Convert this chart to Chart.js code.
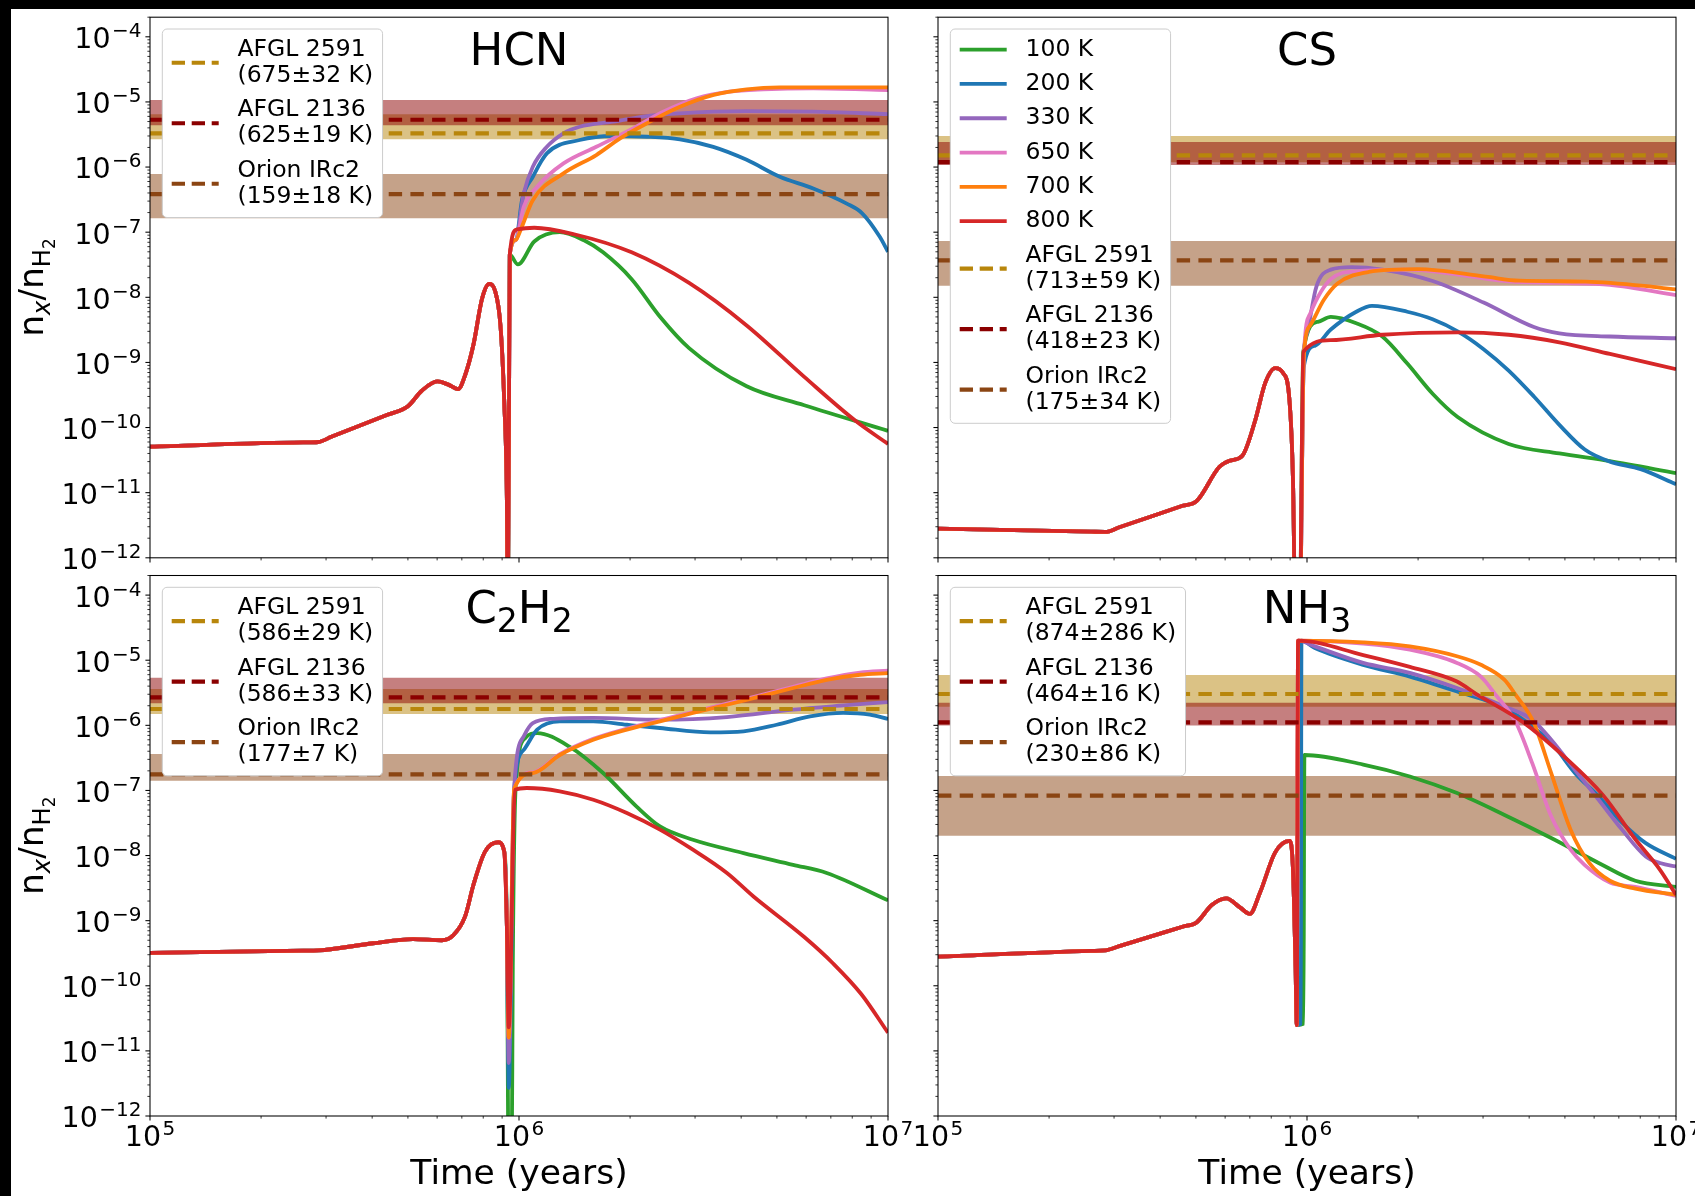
<!DOCTYPE html>
<html>
<head>
<meta charset="utf-8">
<title>Model abundances vs observations</title>
<script src="https://cdn.jsdelivr.net/npm/chart.js@4.4.1/dist/chart.umd.min.js"></script>
<style>
  html, body { margin: 0; padding: 0; background: #fff; }
  #page { position: relative; width: 1695px; height: 1196px; overflow: hidden; background: #fff; }
  #page canvas { position: absolute; left: 0; top: 0; }
  .bar { position: absolute; background: #000; }
</style>
</head>
<body>
<div id="page">
  <div class="bar" style="left:0;top:0;width:1695px;height:9px"></div>
  <div class="bar" style="left:0;top:0;width:11px;height:1196px"></div>
  <canvas id="hcnChart" width="1695" height="1196"></canvas>
  <canvas id="csChart" width="1695" height="1196"></canvas>
  <canvas id="c2h2Chart" width="1695" height="1196"></canvas>
  <canvas id="nh3Chart" width="1695" height="1196"></canvas>
</div>
<script>
window.onload = init;

var FONT = "'DejaVu Sans', sans-serif";

/* axes: tick values and their labels as [mantissa, exponent] */
var xTicks = [1e5, 1e6, 1e7];
var xTickLabels = [['10', '5'], ['10', '6'], ['10', '7']];
var yTicks = [1e-12, 1e-11, 1e-10, 1e-9, 1e-8, 1e-7, 1e-6, 1e-5, 1e-4];
var yTickLabels = [['10', '\u221212'], ['10', '\u221211'], ['10', '\u221210'], ['10', '\u22129'], ['10', '\u22128'],
  ['10', '\u22127'], ['10', '\u22126'], ['10', '\u22125'], ['10', '\u22124']];

/* model temperatures and observed sources */
var temps = ['100 K', '200 K', '330 K', '650 K', '700 K', '800 K'];
var sources = ['AFGL 2591', 'AFGL 2136', 'Orion IRc2'];

/* ---------- HCN : [time (yr), n_x/n_H2] ---------- */
var hcnEarly = [[1e5,5.1e-11],[2.6e5,5.9e-11],[2.86e5,6.0e-11],[3.1e5,7.2e-11],[4.4e5,1.57e-10],[4.99e5,2.1e-10],
  [5.46e5,3.7e-10],[6.01e5,5.1e-10],[6.41e5,4.6e-10],[6.84e5,3.9e-10],[7.14e5,6.3e-10],[7.53e5,1.9e-9],
  [7.94e5,9.5e-9],[8.30e5,1.6e-8],[8.61e5,1.26e-8],[8.91e5,3.6e-9],[9.12e5,2.5e-10],[9.27e5,8.3e-12],[9.33e5,1e-13]];
var hcn100 = [[9.44e5,4.5e-8],[9.93e5,3.2e-8],[1.1e6,7.2e-8],[1.29e6,1.0e-7],[1.5e6,7.5e-8],[1.69e6,4.9e-8],
  [2.02e6,1.9e-8],[2.42e6,4.9e-9],[2.89e6,1.66e-9],[4.14e6,4.3e-10],[5.93e6,2.2e-10],[1e7,8.9e-11]];
var hcn200 = [[9.44e5,4.5e-8],[9.8e5,7.6e-8],[1.02e6,3.2e-7],[1.09e6,7.1e-7],[1.19e6,1.62e-6],[1.46e6,2.6e-6],
  [1.80e6,3.0e-6],[2.22e6,2.92e-6],[2.73e6,2.66e-6],[3.36e6,2.04e-6],[4.14e6,1.29e-6],[5.09e6,7.1e-7],
  [6.27e6,4.7e-7],[7.73e6,2.75e-7],[8.51e6,1.95e-7],[9.5e6,8.5e-8],[1e7,5.0e-8]];
var hcn330 = [[9.44e5,4.5e-8],[9.8e5,7.6e-8],[1.03e6,3.94e-7],[1.09e6,1.01e-6],[1.19e6,2.05e-6],[1.32e6,3.3e-6],
  [1.46e6,4.16e-6],[1.80e6,4.97e-6],[2.22e6,6.07e-6],[2.73e6,6.68e-6],[3.37e6,7.08e-6],[4.14e6,7.24e-6],
  [6.27e6,7.08e-6],[1e7,6.5e-6]];
var hcn650 = [[9.44e5,4.5e-8],[9.8e5,7.6e-8],[1.03e6,2.45e-7],[1.12e6,5.0e-7],[1.32e6,1.14e-6],[1.62e6,2.05e-6],
  [2.0e6,3.7e-6],[2.46e6,7.08e-6],[3.03e6,1.14e-5],[3.72e6,1.44e-5],[4.59e6,1.56e-5],[6.27e6,1.62e-5],[1e7,1.52e-5]];
var hcn700 = [[9.44e5,4.5e-8],[9.8e5,7.6e-8],[1.01e6,1.08e-7],[1.09e6,3.1e-7],[1.32e6,8.0e-7],[1.62e6,1.53e-6],
  [1.88e6,2.76e-6],[2.22e6,4.69e-6],[2.73e6,8.4e-6],[3.37e6,1.28e-5],[4.14e6,1.56e-5],[5.09e6,1.67e-5],[1e7,1.67e-5]];
var hcn800 = [[9.44e5,4.5e-8],[9.86e5,1.1e-7],[1.1e6,1.17e-7],[1.41e6,9.3e-8],[2.02e6,4.9e-8],[2.89e6,1.66e-8],
  [4.14e6,3.7e-9],[5.93e6,6.0e-10],[8.18e6,1.26e-10],[1e7,5.6e-11]];
var hcnObsTemp = ['675\u00b132 K', '625\u00b119 K', '159\u00b118 K'];
var hcnObsMid = [3.3e-6, 5.33e-6, 3.85e-7];
var hcnObsLow = [2.67e-6, 4.4e-6, 1.63e-7];
var hcnObsHigh = [6.45e-6, 1.07e-5, 7.8e-7];

/* ---------- CS ---------- */
var csEarly = [[1e5,2.8e-12],[2.6e5,2.52e-12],[2.84e5,2.5e-12],[3.1e5,2.94e-12],[4.6e5,6.3e-12],[5.02e5,7.4e-12],
  [5.79e5,2.5e-11],[6.17e5,3.1e-11],[6.68e5,3.7e-11],[7.23e5,1.26e-10],[7.71e5,4.9e-10],[8.2e5,8.2e-10],
  [8.61e5,6.9e-10],[8.97e5,2.5e-10],[9.16e5,1.66e-11],[9.31e5,1e-13]];
var cs100 = [[9.55e5,1e-13],[9.77e5,1.45e-9],[1.07e6,4.2e-9],[1.16e6,5.0e-9],[1.36e6,4.0e-9],[1.6e6,2.5e-9],
  [1.87e6,9.6e-10],[2.19e6,3.3e-10],[2.56e6,1.45e-10],[3.52e6,5.6e-11],[4.83e6,4.0e-11],[6.62e6,3.05e-11],[1e7,2.0e-11]];
var cs200 = [[9.55e5,1e-13],[9.8e5,8.5e-10],[1.05e6,1.8e-9],[1.16e6,3.2e-9],[1.36e6,6.0e-9],[1.5e6,7.4e-9],
  [1.87e6,6.0e-9],[2.19e6,4.6e-9],[2.56e6,3.0e-9],[3.01e6,1.6e-9],[3.52e6,7.5e-10],[4.12e6,3.0e-10],
  [4.83e6,1.1e-10],[5.66e6,4.6e-11],[6.62e6,3.0e-11],[8.02e6,2.3e-11],[1e7,1.35e-11]];
var cs330 = [[9.55e5,1e-13],[9.8e5,1.2e-9],[1.0e6,2.8e-9],[1.06e6,1.45e-8],[1.16e6,2.66e-8],[1.32e6,2.9e-8],
  [1.6e6,2.66e-8],[2.19e6,1.78e-8],[3.01e6,8.3e-9],[4.12e6,3.5e-9],[4.83e6,2.8e-9],[6.62e6,2.5e-9],[1e7,2.35e-9]];
var cs650 = [[9.55e5,1e-13],[9.8e5,1.2e-9],[1.02e6,5.6e-9],[1.16e6,1.9e-8],[1.36e6,2.5e-8],[1.87e6,2.66e-8],
  [2.56e6,2.24e-8],[3.52e6,1.75e-8],[4.83e6,1.66e-8],[6.62e6,1.55e-8],[1e7,1.08e-8]];
var cs700 = [[9.55e5,1e-13],[9.8e5,1.2e-9],[1.02e6,3.7e-9],[1.11e6,9.1e-9],[1.21e6,1.63e-8],[1.47e6,2.45e-8],
  [2.0e6,2.7e-8],[3.05e6,2.07e-8],[3.76e6,1.8e-8],[5.7e6,1.74e-8],[8.67e6,1.45e-8],[1e7,1.32e-8]];
var cs800 = [[9.55e5,1e-13],[9.77e5,1.45e-9],[1.16e6,2.2e-9],[1.6e6,2.66e-9],[2.56e6,2.9e-9],[3.52e6,2.66e-9],
  [4.83e6,2.04e-9],[6.62e6,1.35e-9],[1e7,7.9e-10]];
var csObsTemp = ['713\u00b159 K', '418\u00b123 K', '175\u00b134 K'];
var csObsMid = [1.51e-6, 1.19e-6, 3.69e-8];
var csObsLow = [1.19e-6, 1.08e-6, 1.5e-8];
var csObsHigh = [2.99e-6, 2.42e-6, 7.3e-8];

/* ---------- C2H2 ---------- */
var c2h2Early = [[1e5,3.2e-10],[2.6e5,3.47e-10],[2.86e5,3.5e-10],[4.02e5,4.5e-10],[5.16e5,5.2e-10],[6.18e5,5.0e-10],
  [6.64e5,6.0e-10],[7.14e5,1.15e-9],[7.53e5,3.6e-9],[8.09e5,1.15e-8],[8.79e5,1.6e-8],[9.12e5,1.15e-8],[9.27e5,8.5e-10]];
var c2h2100 = [[9.38e5,1e-13],[9.55e5,1e-13],[9.62e5,2e-10],[9.8e5,1.2e-7],[1.04e6,6.4e-7],[1.12e6,7.6e-7],
  [1.37e6,4.7e-7],[1.69e6,1.85e-7],[2.08e6,5.7e-8],[2.41e6,2.8e-8],[2.96e6,1.75e-8],[4.06e6,1.09e-8],
  [5.53e6,7.2e-9],[6.82e6,5.4e-9],[1e7,2.05e-9]];
var c2h2200 = [[9.38e5,2.7e-12],[9.7e5,1.0e-7],[1.03e6,4.2e-7],[1.12e6,8.6e-7],[1.29e6,1.15e-6],[1.59e6,1.15e-6],
  [1.96e6,1.02e-6],[2.41e6,9.1e-7],[3.3e6,7.8e-7],[4.06e6,8.1e-7],[4.99e6,1.02e-6],[6.15e6,1.37e-6],
  [7.57e6,1.55e-6],[8.93e6,1.46e-6],[1e7,1.25e-6]];
var c2h2330 = [[9.38e5,6.5e-12],[9.7e5,1.05e-7],[1.03e6,6.8e-7],[1.09e6,1.08e-6],[1.24e6,1.26e-6],[1.59e6,1.3e-6],
  [2.41e6,1.22e-6],[3.66e6,1.34e-6],[5.53e6,1.74e-6],[7.57e6,2.02e-6],[1e7,2.28e-6]];
var c2h2650 = [[9.38e5,1.6e-11],[9.7e5,1.05e-7],[1.09e6,1.9e-7],[1.29e6,3.6e-7],[1.59e6,6.2e-7],[1.96e6,8.9e-7],
  [2.41e6,1.2e-6],[2.96e6,1.6e-6],[3.66e6,2.15e-6],[4.5e6,2.9e-6],[5.53e6,3.9e-6],[6.82e6,5.25e-6],
  [8.4e6,6.45e-6],[1e7,6.9e-6]];
var c2h2700 = [[9.38e5,1.6e-11],[9.7e5,1.05e-7],[1.09e6,1.85e-7],[1.29e6,3.5e-7],[1.59e6,6.0e-7],[1.96e6,8.6e-7],
  [2.41e6,1.15e-6],[2.96e6,1.55e-6],[3.66e6,2.07e-6],[4.5e6,2.78e-6],[5.53e6,3.74e-6],[6.82e6,5.0e-6],
  [8.4e6,5.98e-6],[1e7,6.35e-6]];
var c2h2800 = [[9.38e5,2.3e-11],[9.75e5,1.02e-7],[1.05e6,1.09e-7],[1.29e6,9.7e-8],[1.59e6,7.2e-8],[1.96e6,4.5e-8],
  [2.41e6,2.5e-8],[2.96e6,1.23e-8],[3.66e6,5.4e-9],[4.32e6,2.35e-9],[5.93e6,5.6e-10],[7.1e6,2.2e-10],
  [8.47e6,7.4e-11],[1e7,1.9e-11]];
var c2h2ObsTemp = ['586\u00b129 K', '586\u00b133 K', '177\u00b17 K'];
var c2h2ObsMid = [1.78e-6, 2.69e-6, 1.77e-7];
var c2h2ObsLow = [1.49e-6, 2.18e-6, 1.41e-7];
var c2h2ObsHigh = [3.61e-6, 5.38e-6, 3.62e-7];

/* ---------- NH3 ---------- */
var nh3Early = [[1e5,2.8e-10],[2.6e5,3.43e-10],[2.84e5,3.5e-10],[3.1e5,4.06e-10],[4.6e5,8.07e-10],[5.02e5,9.4e-10],
  [5.52e5,1.74e-9],[6.04e5,2.2e-9],[6.58e5,1.6e-9],[7.0e5,1.27e-9],[7.46e5,2.7e-9],[8.2e5,1.12e-8],
  [8.97e5,1.68e-8],[9.16e5,6.4e-9],[9.31e5,2.0e-10],[9.38e5,2.5e-11]];
var nh3100 = [[9.78e5,2.6e-11],[9.84e5,3.5e-7],[1.42e6,2.5e-7],[1.9e6,1.64e-7],[2.55e6,9.1e-8],[3.43e6,4.2e-8],
  [4.59e6,1.86e-8],[6.17e6,7.7e-9],[7.76e6,4.1e-9],[1e7,3.3e-9]];
var nh3200 = [[9.62e5,2.6e-11],[9.66e5,2.0e-5],[1.05e6,1.54e-5],[1.42e6,8.5e-6],[1.9e6,5.6e-6],[2.55e6,3.3e-6],
  [3.43e6,1.84e-6],[4.59e6,5.4e-7],[5.32e6,1.86e-7],[6.17e6,8.1e-8],[7.14e6,3.2e-8],[8.28e6,1.55e-8],[1e7,8.9e-9]];
var nh3330 = [[9.46e5,2.0e-5],[1.05e6,1.63e-5],[1.42e6,9.1e-6],[1.9e6,6.4e-6],[2.55e6,3.74e-6],[3.43e6,1.95e-6],
  [4.08e6,1.22e-6],[4.59e6,6.0e-7],[5.32e6,2.08e-7],[6.17e6,7.2e-8],[7.14e6,2.5e-8],[8.28e6,9.7e-9],
  [9.1e6,7.6e-9],[1e7,6.8e-9]];
var nh3650 = [[9.46e5,2.0e-5],[1.42e6,1.8e-5],[1.9e6,1.45e-5],[2.55e6,9.1e-6],[2.96e6,5.6e-6],[3.23e6,3.05e-6],
  [3.68e6,1.12e-6],[4.08e6,2.6e-7],[4.59e6,4.0e-8],[5.18e6,1.23e-8],[5.65e6,7.2e-9],[6.62e6,3.85e-9],
  [7.76e6,3.3e-9],[1e7,2.4e-9]];
var nh3700 = [[9.46e5,2.0e-5],[1.42e6,1.88e-5],[1.9e6,1.63e-5],[2.55e6,1.15e-5],[2.96e6,8.5e-6],[3.43e6,5.0e-6],
  [3.66e6,3.05e-6],[4.11e6,1.12e-6],[4.59e6,1.85e-7],[5.18e6,2.5e-8],[5.82e6,7.7e-9],[6.62e6,4.1e-9],
  [7.76e6,3.1e-9],[1e7,2.5e-9]];
var nh3800 = [[9.46e5,2.0e-5],[1.42e6,1.2e-5],[1.9e6,7.9e-6],[2.55e6,4.7e-6],[2.87e6,3.05e-6],[3.85e6,1.12e-6],
  [5.01e6,3.2e-7],[6.35e6,8.4e-8],[7.76e6,1.78e-8],[9.04e6,6.1e-9],[1e7,2.5e-9]];
var nh3ObsTemp = ['874\u00b1286 K', '464\u00b116 K', '230\u00b186 K'];
var nh3ObsMid = [3.03e-6, 1.11e-6, 8.3e-8];
var nh3ObsLow = [1.93e-6, 9.9e-7, 2.01e-8];
var nh3ObsHigh = [5.93e-6, 2.23e-6, 1.66e-7];

/* styles */
var tempColors = ['#2ca02c', '#1f77b4', '#9467bd', '#e377c2', '#ff7f0e', '#d62728'];
var obsColors = ['#b8860b', '#8b0000', '#8b4513'];
var obsFills = ['rgba(184,134,11,0.5)', 'rgba(139,0,0,0.5)', 'rgba(139,69,19,0.5)'];
var LW = 3.8;
var DASH_LW = 4.2;
var plotDash = [13.4, 8.3];
var legendDash = [13.3, 6.7];
var TICK_SIZE = 28.5, SUP_SIZE = 20, SUP_GAP = 1.5, SUP_RAISE = 11;

var panels = [
  { id: 'hcnChart', title: [['HCN', 0]], early: hcnEarly, late: [hcn100, hcn200, hcn330, hcn650, hcn700, hcn800],
    obsTemp: hcnObsTemp, mid: hcnObsMid, low: hcnObsLow, high: hcnObsHigh,
    left: 150, right: 888, top: 17.2, bottom: 557.8, xLabels: false, yLabels: true, legendTemps: false },
  { id: 'csChart', title: [['CS', 0]], early: csEarly, late: [cs100, cs200, cs330, cs650, cs700, cs800],
    obsTemp: csObsTemp, mid: csObsMid, low: csObsLow, high: csObsHigh,
    left: 938, right: 1676, top: 17.2, bottom: 557.8, xLabels: false, yLabels: false, legendTemps: true },
  { id: 'c2h2Chart', title: [['C', 0], ['2', 1], ['H', 0], ['2', 1]], early: c2h2Early,
    late: [c2h2100, c2h2200, c2h2330, c2h2650, c2h2700, c2h2800],
    obsTemp: c2h2ObsTemp, mid: c2h2ObsMid, low: c2h2ObsLow, high: c2h2ObsHigh,
    left: 150, right: 888, top: 575.5, bottom: 1116, xLabels: true, yLabels: true, legendTemps: false },
  { id: 'nh3Chart', title: [['NH', 0], ['3', 1]], early: nh3Early, late: [nh3100, nh3200, nh3330, nh3650, nh3700, nh3800],
    obsTemp: nh3ObsTemp, mid: nh3ObsMid, low: nh3ObsLow, high: nh3ObsHigh,
    left: 938, right: 1676, top: 575.5, bottom: 1116, xLabels: true, yLabels: false, legendTemps: false }
];

function pts(list) {
  return list.map(function (p) { return { x: p[0], y: p[1] }; });
}

function buildDatasets(p) {
  var ds = [];
  var j;
  // observed ranges: upper edge filled down to the lower edge
  for (j = 0; j < sources.length; j++) {
    ds.push({ label: sources[j] + ' range', data: pts([[1e5, p.high[j]], [1e7, p.high[j]]]),
      borderWidth: 0, pointRadius: 0, fill: '+1', backgroundColor: obsFills[j], order: 32 - j });
    ds.push({ label: sources[j] + ' low', data: pts([[1e5, p.low[j]], [1e7, p.low[j]]]),
      borderWidth: 0, pointRadius: 0, fill: false, order: 32 - j });
  }
  for (var i = 0; i < temps.length; i++) {
    ds.push({ label: temps[i], data: pts(p.early.concat(p.late[i])), borderColor: tempColors[i],
      borderWidth: LW, pointRadius: 0, fill: false, cubicInterpolationMode: 'monotone',
      borderJoinStyle: 'round', order: 6 - i });
  }
  for (j = 0; j < sources.length; j++) {
    ds.push({ label: sources[j], data: pts([[1e5, p.mid[j]], [1e7, p.mid[j]]]), borderColor: obsColors[j],
      borderWidth: DASH_LW, borderDash: plotDash, pointRadius: 0, fill: false, order: -3 + j });
  }
  return ds;
}

function legendItems(p) {
  var items = [];
  if (p.legendTemps) {
    temps.forEach(function (t, i) { items.push({ lines: [t], color: tempColors[i], dash: [], lw: LW }); });
  }
  sources.forEach(function (s, j) {
    items.push({ lines: [s, '(' + p.obsTemp[j] + ')'], color: obsColors[j], dash: legendDash, lw: DASH_LW });
  });
  return items;
}

function drawFrame(ctx, a) {
  ctx.strokeStyle = '#000';
  ctx.lineWidth = 1.05;
  ctx.setLineDash([]);
  ctx.strokeRect(a.left, a.top, a.right - a.left, a.bottom - a.top);
}

// "10" with a raised exponent, like 10^-4
function drawPowerLabel(ctx, parts, x, base, align) {
  ctx.font = TICK_SIZE + 'px ' + FONT;
  var w1 = ctx.measureText(parts[0]).width;
  ctx.font = SUP_SIZE + 'px ' + FONT;
  var w2 = ctx.measureText(parts[1]).width;
  var total = w1 + SUP_GAP + w2;
  var x0 = align === 'right' ? x - total : x - total / 2;
  ctx.fillStyle = '#000';
  ctx.textAlign = 'left';
  ctx.textBaseline = 'alphabetic';
  ctx.font = TICK_SIZE + 'px ' + FONT;
  ctx.fillText(parts[0], x0, base);
  ctx.font = SUP_SIZE + 'px ' + FONT;
  ctx.fillText(parts[1], x0 + w1 + SUP_GAP, base - SUP_RAISE);
}

function drawTicks(ctx, chart, p) {
  var a = chart.chartArea, xs = chart.scales.x, ys = chart.scales.y;
  var k, m, v, px, len;
  ctx.strokeStyle = '#000';
  for (k = -12; k <= -4; k++) {
    for (m = 1; m <= 9; m++) {
      v = m * Math.pow(10, k);
      if (v > 2.0001e-4) break;
      px = ys.getPixelForValue(v);
      len = m === 1 ? 4.6 : 2.6;
      ctx.lineWidth = m === 1 ? 1.05 : 0.8;
      ctx.beginPath(); ctx.moveTo(a.left - len, px); ctx.lineTo(a.left, px); ctx.stroke();
    }
  }
  for (k = 5; k <= 7; k++) {
    for (m = 1; m <= 9; m++) {
      v = m * Math.pow(10, k);
      if (v > 1.0001e7) break;
      px = xs.getPixelForValue(v);
      len = m === 1 ? 4.6 : 2.6;
      ctx.lineWidth = m === 1 ? 1.05 : 0.8;
      ctx.beginPath(); ctx.moveTo(px, a.bottom); ctx.lineTo(px, a.bottom + len); ctx.stroke();
    }
  }
  if (p.yLabels) {
    yTicks.forEach(function (t, i) {
      drawPowerLabel(ctx, yTickLabels[i], a.left - 8.5, ys.getPixelForValue(t) + 11.4, 'right');
    });
  }
  if (p.xLabels) {
    xTicks.forEach(function (t, i) {
      drawPowerLabel(ctx, xTickLabels[i], xs.getPixelForValue(t), a.bottom + 29.7, 'center');
    });
  }
}

function drawPanelTitle(ctx, a, parts) {
  var big = 45, small = 33, shift = 9;
  var base = a.top + 47.7;
  var widths = parts.map(function (pt) {
    ctx.font = (pt[1] ? small : big) + 'px ' + FONT;
    return ctx.measureText(pt[0]).width;
  });
  var total = widths.reduce(function (s, w) { return s + w; }, 0);
  var x = (a.left + a.right) / 2 - total / 2;
  ctx.fillStyle = '#000';
  ctx.textAlign = 'left';
  ctx.textBaseline = 'alphabetic';
  parts.forEach(function (pt, i) {
    ctx.font = (pt[1] ? small : big) + 'px ' + FONT;
    ctx.fillText(pt[0], x, pt[1] ? base + shift : base);
    x += widths[i];
  });
}

// n_x / n_H2, drawn rotated
var yTitleParts = [['n', 34.5, 0, ''], ['x', 24.2, 7, 'italic '], ['/n', 34.5, 0, ''], ['H', 24.2, 7, ''], ['2', 16.9, 12, '']];

function drawYTitle(ctx, a) {
  var widths = yTitleParts.map(function (pt) {
    ctx.font = pt[3] + pt[1] + 'px ' + FONT;
    return ctx.measureText(pt[0]).width;
  });
  var total = widths.reduce(function (s, w) { return s + w; }, 0);
  ctx.save();
  ctx.translate(43, (a.top + a.bottom) / 2);
  ctx.rotate(-Math.PI / 2);
  ctx.fillStyle = '#000';
  ctx.textAlign = 'left';
  ctx.textBaseline = 'alphabetic';
  var x = -total / 2;
  yTitleParts.forEach(function (pt, i) {
    ctx.font = pt[3] + pt[1] + 'px ' + FONT;
    ctx.fillText(pt[0], x, pt[2]);
    x += widths[i];
  });
  ctx.restore();
}

function roundRectPath(ctx, x, y, w, h, r) {
  ctx.beginPath();
  ctx.moveTo(x + r, y);
  ctx.lineTo(x + w - r, y);
  ctx.arcTo(x + w, y, x + w, y + r, r);
  ctx.lineTo(x + w, y + h - r);
  ctx.arcTo(x + w, y + h, x + w - r, y + h, r);
  ctx.lineTo(x + r, y + h);
  ctx.arcTo(x, y + h, x, y + h - r, r);
  ctx.lineTo(x, y + r);
  ctx.arcTo(x, y, x + r, y, r);
  ctx.closePath();
}

function drawLegend(ctx, a, items) {
  var F = 23.5, pad = 9.4, handle = 47, gap = 18.8, h1 = 22.5, lineGap = 26.2, sp = 11.8;
  ctx.font = F + 'px ' + FONT;
  var tw = 0;
  items.forEach(function (it) {
    it.lines.forEach(function (l) { tw = Math.max(tw, ctx.measureText(l).width); });
  });
  var heights = items.map(function (it) { return h1 + (it.lines.length - 1) * lineGap; });
  var h = 2 * pad + heights.reduce(function (s, v) { return s + v; }, 0) + sp * (items.length - 1);
  var w = pad + handle + gap + tw + pad;
  var bx = a.left + 12.3, by = a.top + 11.8;

  roundRectPath(ctx, bx, by, w, h, 4.7);
  ctx.fillStyle = '#ffffff';
  ctx.fill();
  ctx.setLineDash([]);
  ctx.lineWidth = 1;
  ctx.strokeStyle = '#cccccc';
  ctx.stroke();

  var y = by + pad;
  items.forEach(function (it, i) {
    var cy = y + heights[i] / 2;
    ctx.beginPath();
    ctx.setLineDash(it.dash);
    ctx.lineDashOffset = 0;
    ctx.lineWidth = it.lw;
    ctx.lineCap = 'butt';
    ctx.strokeStyle = it.color;
    ctx.moveTo(bx + pad, cy);
    ctx.lineTo(bx + pad + handle, cy);
    ctx.stroke();
    ctx.setLineDash([]);
    ctx.fillStyle = '#000';
    ctx.textAlign = 'left';
    ctx.textBaseline = 'alphabetic';
    ctx.font = F + 'px ' + FONT;
    it.lines.forEach(function (l, n) {
      ctx.fillText(l, bx + pad + handle + gap, y + 17.3 + n * lineGap);
    });
    y += heights[i] + sp;
  });
}

function makeDecor(p) {
  var items = legendItems(p);
  return {
    id: 'panelDecor',
    afterDraw: function (chart) {
      var ctx = chart.ctx, a = chart.chartArea;
      ctx.save();
      drawFrame(ctx, a);
      drawTicks(ctx, chart, p);
      drawPanelTitle(ctx, a, p.title);
      if (p.yLabels) drawYTitle(ctx, a);
      drawLegend(ctx, a, items);
      ctx.restore();
    }
  };
}

function showPanel(p) {
  var config = {
    type: 'line',
    data: { datasets: buildDatasets(p) },
    options: {
      responsive: false,
      animation: false,
      devicePixelRatio: 1,
      events: [],
      layout: {
        padding: {
          left: p.yLabels ? 0 : p.left,
          top: p.top,
          right: 1695 - p.right,
          bottom: p.xLabels ? 0 : 1196 - p.bottom
        }
      },
      plugins: {
        legend: { display: false },
        tooltip: { enabled: false },
        colors: { enabled: false }
      },
      scales: {
        x: {
          type: 'logarithmic', min: 1e5, max: 1e7,
          grid: { display: false },
          border: { display: false },
          ticks: { display: false },
          title: {
            display: p.xLabels, text: 'Time (years)', color: '#000',
            font: { family: FONT, size: 34.5 }, padding: { top: 0, bottom: 0.5 }
          },
          afterBuildTicks: function (s) { s.ticks = xTicks.map(function (v) { return { value: v }; }); },
          afterFit: function (s) {
            s.height = p.xLabels ? 1196 - p.bottom : 0;
            s.paddingLeft = 0; s.paddingRight = 0;
          }
        },
        y: {
          type: 'logarithmic', min: 1e-12, max: 2e-4,
          grid: { display: false },
          border: { display: false },
          ticks: { display: false },
          afterBuildTicks: function (s) { s.ticks = yTicks.map(function (v) { return { value: v }; }); },
          afterFit: function (s) {
            s.width = p.yLabels ? p.left : 0;
            s.paddingTop = 0; s.paddingBottom = 0;
          }
        }
      }
    },
    plugins: [makeDecor(p)]
  };
  return new Chart(document.getElementById(p.id), config);
}

function init() {
  panels.forEach(showPanel);
}
</script>
</body>
</html>
